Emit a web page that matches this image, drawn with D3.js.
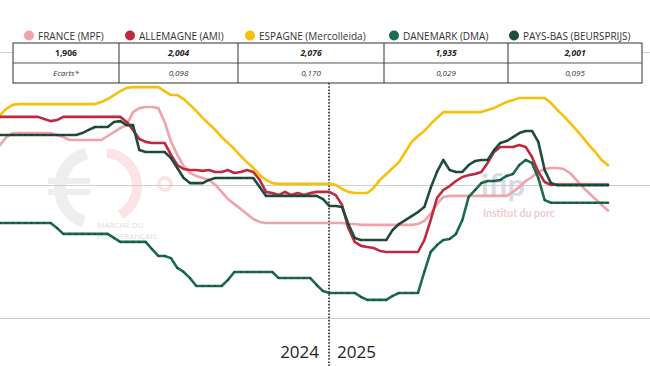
<!DOCTYPE html>
<html><head><meta charset="utf-8">
<script src="https://cdn.jsdelivr.net/npm/d3@7"></script>
<style>body{margin:0;background:#fff;overflow:hidden}svg{display:block;font-family:'Open Sans',sans-serif}</style>
</head><body><svg id="c" width="650" height="366"></svg>
<script>
// ---- data (weekly prices, EUR/kg, week 1 2024 -> week 45 2025) ----
const seriesNames = ["FRANCE (MPF)", "ALLEMAGNE (AMI)", "ESPAGNE (Mercolleida)", "DANEMARK (DMA)", "PAYS-BAS (BEURSPRIJS)"];
const seriesColors = ["#f0a3ad", "#c1283e", "#f6c108", "#1b6b4d", "#1f4d3e"];
const yearLabels = ["2024", "2025"];
const weeks2024 = 52;
const yTicks = [1.5, 2.0, 2.5];

const france = [2.152,2.182,2.197,2.197,2.197,2.197,2.197,2.197,2.197,2.190,2.182,2.171,2.171,2.171,2.171,2.171,2.171,
2.186,2.201,2.216,2.227,2.276,2.291,2.295,2.295,2.291,2.239,2.164,2.115,2.073,2.047,2.036,2.028,2.021,2.002,1.976,1.949,1.930,1.912,1.893,1.874,1.863,
1.859,1.859,1.859,1.859,1.859,1.859,1.859,1.859,1.859,1.859,1.859,1.859,
1.859,1.855,1.855,
1.852,1.852,1.852,1.852,1.852,1.852,1.852,1.852,1.852,
1.855,1.867,1.893,1.930,1.957,
1.961,1.961,1.961,1.961,1.961,1.961,1.961,1.961,1.961,1.961,
1.976,1.994,2.017,2.032,2.051,2.062,2.066,2.066,2.062,2.047,2.021,1.994,1.972,1.949,1.927,1.906];

const allemagne = [2.258,2.258,2.258,2.258,2.258,2.258,2.258,2.250,2.242,2.246,
2.258,2.258,2.258,2.258,2.258,2.258,2.258,2.258,2.258,2.258,
2.239,2.209,2.175,2.164,2.160,2.160,2.160,
2.115,2.077,2.062,2.058,2.058,2.055,2.058,2.051,2.051,2.058,2.047,2.051,2.058,2.051,2.021,1.976,1.972,1.964,1.976,1.964,1.972,1.964,1.972,1.976,1.976,1.976,1.964,1.927,1.840,1.788,1.773,1.769,1.765,1.754,
1.750,1.750,1.750,1.750,1.750,1.750,
1.795,1.870,1.953,1.983,1.998,2.017,2.032,2.039,2.043,2.051,2.085,2.126,2.145,2.145,2.145,2.152,2.145,2.107,2.051,2.013,2.002,
2.004,2.004,2.004,2.004,2.004,2.004,2.004,2.004,2.004];

const espagne = [2.265,2.288,2.303,
2.306,2.306,2.306,2.306,2.306,2.306,2.306,2.306,2.306,2.306,2.306,2.306,2.306,
2.314,2.325,2.340,2.355,2.367,
2.370,2.370,2.370,2.370,2.370,
2.355,2.340,2.340,2.325,2.303,2.280,2.254,2.231,2.209,2.182,2.160,2.137,2.111,2.088,2.066,2.039,2.021,2.009,
2.006,2.006,2.006,2.006,2.006,2.006,2.006,2.006,2.006,
2.002,1.987,1.976,1.972,1.972,1.972,
1.991,2.021,2.043,2.066,2.088,2.126,2.164,2.186,2.205,2.231,2.254,
2.276,2.276,2.276,2.276,2.276,2.276,2.276,
2.284,2.291,2.303,2.314,2.321,
2.329,2.329,2.329,2.329,2.329,
2.310,2.284,2.261,2.235,2.209,2.182,2.152,2.126,2.096,2.076];

const danemark = [1.859,1.859,1.859,1.859,1.859,1.859,1.859,1.859,1.859,1.840,
1.818,1.818,1.818,1.818,1.818,1.818,1.818,1.818,1.803,
1.788,1.788,1.788,1.788,1.788,
1.761,1.735,1.735,1.727,1.690,1.675,1.652,
1.622,1.622,1.622,1.622,1.622,1.645,
1.675,1.675,1.675,1.675,1.675,1.675,1.675,
1.652,1.652,1.652,1.652,1.652,1.652,1.626,1.603,
1.596,1.596,1.596,1.596,1.596,1.581,1.570,1.570,1.570,1.570,1.585,
1.596,1.596,1.596,1.596,
1.675,1.750,1.776,1.795,1.799,1.818,1.870,1.957,1.983,2.009,2.017,2.017,2.021,2.036,2.043,2.077,2.096,2.085,2.028,1.945,
1.935,1.935,1.935,1.935,1.935,1.935,1.935,1.935,1.935,1.935];

const paysbas = [2.190,2.190,2.190,2.190,2.190,2.190,2.190,2.190,2.190,2.190,2.190,2.190,2.190,
2.197,2.209,2.220,2.220,2.220,2.239,2.242,2.227,2.227,2.133,
2.126,2.126,2.126,2.126,2.103,2.066,2.028,2.009,2.009,2.009,2.021,
2.028,2.028,2.028,2.028,2.028,2.028,2.028,1.994,
1.961,1.961,1.961,1.961,1.961,1.961,1.961,1.961,1.961,
1.949,1.923,1.923,1.919,1.855,1.803,
1.795,1.795,1.795,1.795,1.795,
1.833,1.855,1.870,1.885,1.900,1.919,1.991,2.051,2.096,2.058,2.051,2.051,2.077,2.092,2.096,2.096,2.133,2.160,2.167,2.182,2.197,2.205,2.205,2.164,2.058,2.009,
2.001,2.001,2.001,2.001,2.001,2.001,2.001,2.001,2.001];

const series = [france, allemagne, espagne, danemark, paysbas];

// ---- drawing ----
const W = 650, H = 366;
const svg = d3.select("#c");
const n = france.length;
const x = d3.scaleLinear().domain([0, n - 1]).range([0, 608]);
const y = d3.scaleLinear().domain([1.5, 2.5]).range([318.5, 52.5]);

// watermarks
const wm = svg.append("g");
wm.append("path").attr("transform", "translate(96,188)")
  .attr("d", d3.arc()({innerRadius: 30, outerRadius: 42, startAngle: 200 * Math.PI / 180, endAngle: 345 * Math.PI / 180}))
  .attr("fill", "#eeeeee");
wm.append("rect").attr("x", 48).attr("y", 178).attr("width", 42).attr("height", 6).attr("fill", "#eeeeee");
wm.append("rect").attr("x", 48).attr("y", 189).attr("width", 42).attr("height", 6).attr("fill", "#eeeeee");
wm.append("path").attr("transform", "translate(104,186)")
  .attr("d", d3.arc()({innerRadius: 28, outerRadius: 38, startAngle: 5 * Math.PI / 180, endAngle: 150 * Math.PI / 180}))
  .attr("fill", "#fce3e6");
wm.append("circle").attr("cx", 165).attr("cy", 184).attr("r", 6).attr("fill", "none").attr("stroke", "#fce3e6").attr("stroke-width", 4);
wm.append("text").attr("x", 97).attr("y", 228).attr("font-size", 8).attr("fill", "#dcdcdc").text("MARCHÉ DU");
wm.append("text").attr("x", 97).attr("y", 239).attr("font-size", 8).attr("fill", "#dcdcdc").text("PORC FRANÇAIS");
wm.append("text").attr("x", 481).attr("y", 196).attr("font-size", 31).attr("font-weight", 700)
  .attr("font-family", "Lato, sans-serif").attr("fill", "#d6dce6").text("ifip");
wm.append("text").attr("x", 483).attr("y", 217).attr("font-size", 10.5).attr("font-weight", 700)
  .attr("font-family", "Lato, sans-serif").attr("fill", "#f4c8cf").text("Institut du porc");

// gridlines
svg.append("g").selectAll("line").data(yTicks).join("line")
  .attr("x1", 0).attr("x2", W).attr("y1", d => y(d)).attr("y2", d => y(d))
  .attr("stroke", "#cfcfcf").attr("stroke-width", 1);

// year divider
const xb = x(weeks2024) - 0.3;
svg.append("line").attr("x1", xb).attr("x2", xb).attr("y1", 83).attr("y2", H)
  .attr("stroke", "#222").attr("stroke-width", 1.6).attr("stroke-dasharray", "1.6,1.6");
svg.append("text").attr("x", xb - 10).attr("y", 358).attr("text-anchor", "end")
  .attr("font-size", 17).attr("fill", "#222").text(yearLabels[0]);
svg.append("text").attr("x", xb + 8).attr("y", 358).attr("text-anchor", "start")
  .attr("font-size", 17).attr("fill", "#222").text(yearLabels[1]);

// lines
const line = d3.line().x((d, i) => x(i)).y(d => y(d));
const order = [0, 2, 1, 3, 4];
order.forEach(k => {
  svg.append("path").datum(series[k]).attr("d", line).attr("fill", "none")
    .attr("stroke", seriesColors[k]).attr("stroke-width", 2.6)
    .attr("stroke-linejoin", "round").attr("stroke-linecap", "round");
  if (k >= 3) {
    svg.append("g").selectAll("circle").data(series[k]).join("circle")
      .attr("cx", (d, i) => x(i)).attr("cy", d => y(d)).attr("r", 0.9)
      .attr("fill", "#0f3326").attr("opacity", 0.7);
  }
});

// legend
const legX = [29, 130, 250, 394, 514];
const lg = svg.append("g");
seriesNames.forEach((s, k) => {
  lg.append("circle").attr("cx", legX[k]).attr("cy", 35.5).attr("r", 5).attr("fill", seriesColors[k]);
  lg.append("text").attr("x", legX[k] + 9).attr("y", 39.5).attr("font-size", 10).attr("fill", "#333").text(s);
});

// table
const colX = [13, 119, 238, 384, 508, 642];
const rowY = [43, 63, 83];
const fmt = v => v.toFixed(3).replace(".", ",");
const last = series.map(s => s[s.length - 1]);
const row1 = last.map(fmt);
const row2 = ["Ecarts*"].concat(last.slice(1).map(v => fmt(v - last[0])));
const tb = svg.append("g");
tb.append("rect").attr("x", colX[0]).attr("y", rowY[0]).attr("width", colX[5] - colX[0]).attr("height", rowY[2] - rowY[0])
  .attr("fill", "#fff").attr("stroke", "#333").attr("stroke-width", 1);
tb.append("line").attr("x1", colX[0]).attr("x2", colX[5]).attr("y1", rowY[1]).attr("y2", rowY[1]).attr("stroke", "#555");
colX.slice(1, 5).forEach(cx => tb.append("line").attr("x1", cx).attr("x2", cx).attr("y1", rowY[0]).attr("y2", rowY[2]).attr("stroke", "#333"));
row1.forEach((t, k) => {
  tb.append("text").attr("x", (colX[k] + colX[k + 1]) / 2).attr("y", 56).attr("text-anchor", "middle")
    .attr("font-size", 8.5).attr("font-weight", 700).attr("font-style", k === 0 ? "normal" : "italic")
    .attr("fill", "#222").text(t);
});
row2.forEach((t, k) => {
  tb.append("text").attr("x", (colX[k] + colX[k + 1]) / 2).attr("y", 76).attr("text-anchor", "middle")
    .attr("font-size", 8).attr("font-style", "italic").attr("fill", "#333").text(t);
});
</script></body></html>
